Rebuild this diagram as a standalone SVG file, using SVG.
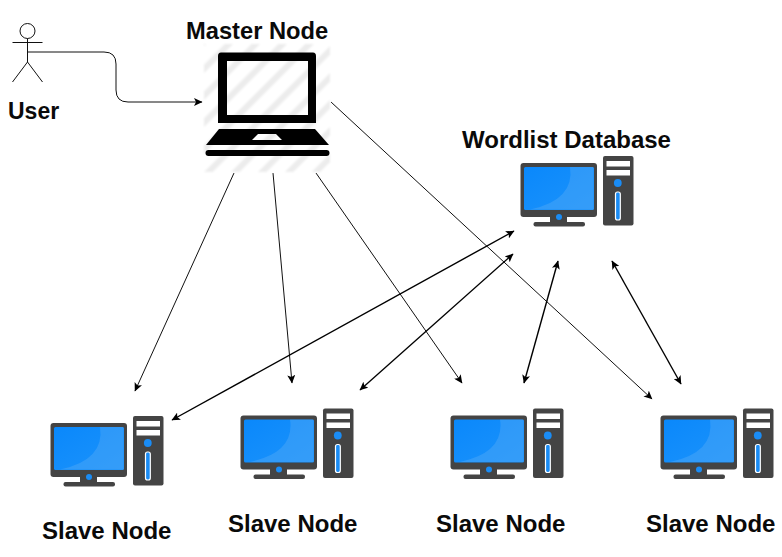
<svg xmlns="http://www.w3.org/2000/svg" xmlns:xlink="http://www.w3.org/1999/xlink" width="782" height="557" viewBox="0 0 782 557">
<style>
text{font-family:"Liberation Sans",Arial,sans-serif;font-weight:700;font-size:24px;fill:#0a0a0a}
.c{fill:none;stroke:#111;stroke-width:1}
.e{fill:none;stroke:#000;stroke-width:1.400}
.d{fill:#444}
.b{fill:#1a8cf5}
</style>
<defs>
<marker id="a" markerWidth="9" markerHeight="8" refX="8" refY="4" orient="auto-start-reverse" markerUnits="userSpaceOnUse"><path d="M0 0L8.500 4L0 8L2 4Z" fill="#000"/></marker>
<pattern id="h" width="19" height="19" patternUnits="userSpaceOnUse" patternTransform="rotate(45)"><rect width="19" height="19" fill="#fff"/><rect width="6" height="19" fill="#ececec"/></pattern>
<filter id="soft" x="-5%" y="-5%" width="110%" height="110%"><feGaussianBlur stdDeviation="1"/></filter>
<linearGradient id="s" x1="0" y1="0" x2="1" y2="1"><stop offset="0" stop-color="#0a88fb"/><stop offset="1" stop-color="#1c93fb"/></linearGradient>
<g id="pc">
<rect class="d" x="520.500" y="163" width="76.500" height="54" rx="3"/>
<rect x="524" y="167" width="70" height="43" rx="1.500" fill="url(#s)"/>
<path d="M570 167H593.500V209.500H530Q575 200 570 167Z" fill="#59adf8" opacity=".4"/>
<rect class="d" x="550" y="216" width="17" height="8"/>
<rect class="d" x="533.500" y="222" width="51.500" height="4.500" rx="2"/>
<circle class="b" cx="559" cy="217" r="3"/>
<rect class="d" x="603" y="156" width="30.500" height="69.500" rx="2"/>
<rect x="606.500" y="161" width="23.500" height="5.500" fill="#fff"/>
<rect x="606.500" y="170" width="23.500" height="5.500" fill="#fff"/>
<circle class="b" cx="617.800" cy="183" r="3.900"/>
<rect x="615.500" y="192" width="4.800" height="28" rx="2" fill="#1a8cf5" stroke="#fff" stroke-width="1.200"/>
</g>
</defs>

<g id="connectors">
<path class="c" marker-end="url(#a)" d="M28 52H104Q116 52 116 64V90Q116 102 128 102H202"/>
<path class="c" marker-end="url(#a)" d="M234 173L135 391"/>
<path class="c" marker-end="url(#a)" d="M273 173L292 383"/>
<path class="c" marker-end="url(#a)" d="M316 173L462 383"/>
<path class="c" marker-end="url(#a)" d="M331 102L652 399"/>
<path class="e" marker-start="url(#a)" marker-end="url(#a)" d="M172 420L514 231"/>
<path class="e" marker-start="url(#a)" marker-end="url(#a)" d="M360 390L513 254"/>
<path class="e" marker-start="url(#a)" marker-end="url(#a)" d="M524 383L558 261"/>
<path class="e" marker-start="url(#a)" marker-end="url(#a)" d="M681 384L612 261"/>
</g>

<g id="user">
<circle cx="27.500" cy="31" r="7.500" fill="#fff" stroke="#111"/>
<path class="c" d="M27.500 38.500V62M12.500 42.500H42.500M12.500 82L27.500 62L42.500 82"/>
<text x="8" y="119" style="font-size:23px">User</text>
</g>

<g id="master">
<rect x="204" y="44" width="126" height="128" fill="url(#h)" filter="url(#soft)"/>
<path fill="#000" fill-rule="evenodd" d="M221 52.500H313Q316 52.500 316 56V123H218V56Q218 52.500 221 52.500ZM227 61V115H308V61Z"/>
<path fill="#000" fill-rule="evenodd" d="M219 129H315L329 145H206ZM258 134L252 140H282L276 134Z"/>
<rect x="205.500" y="150" width="124" height="6" rx="3" fill="#000"/>
<text x="186" y="39" style="font-size:23.700px">Master Node</text>
</g>

<g id="wordlist">
<use xlink:href="#pc" href="#pc"/>
<text x="462" y="148">Wordlist Database</text>
</g>
<g id="slave1">
<use xlink:href="#pc" href="#pc" x="-470" y="260"/>
<text x="42" y="539">Slave Node</text>
</g>
<g id="slave2">
<use xlink:href="#pc" href="#pc" x="-280" y="252.500"/>
<text x="228" y="532">Slave Node</text>
</g>
<g id="slave3">
<use xlink:href="#pc" href="#pc" x="-70" y="252.500"/>
<text x="436" y="532">Slave Node</text>
</g>
<g id="slave4">
<use xlink:href="#pc" href="#pc" x="140" y="252.500"/>
<text x="646" y="532">Slave Node</text>
</g>
</svg>
